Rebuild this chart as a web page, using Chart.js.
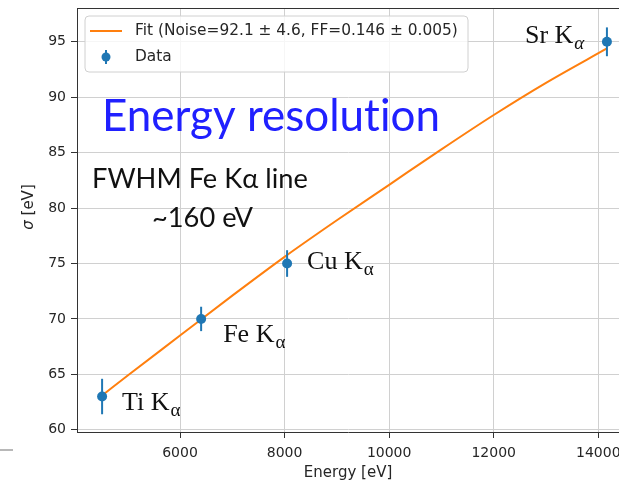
<!DOCTYPE html>
<html><head><meta charset="utf-8">
<script src="https://cdn.jsdelivr.net/npm/chart.js@4"></script>
<style>
html,body{margin:0;padding:0;background:#fff;overflow:hidden;width:619px;height:482px}
</style></head><body><canvas id="c" width="619" height="482"></canvas>
<script>
// ---- data ----
const lineNames = ['Ti', 'Fe', 'Cu', 'Sr'];
const energy = [4510, 6404, 8048, 14165];
const sigma = [63.0, 70.0, 75.0, 95.0];
const sigmaErr = [1.6, 1.1, 1.2, 1.3];
const fitEnergy = [4510, 5000, 6000, 7000, 8000, 9000, 10000, 11000, 12000, 13000, 14165];
const fitSigma = [63.1, 64.9, 68.5, 72.1, 75.6, 78.9, 82.1, 85.3, 88.4, 91.3, 94.4];
const xTicks = [6000, 8000, 10000, 12000, 14000];
const yTicks = [60, 65, 70, 75, 80, 85, 90, 95];
const fitLabel = 'Fit (Noise=92.1 \u00b1 4.6, FF=0.146 \u00b1 0.005)';
const dataLabel = 'Data';
const xTitle = 'Energy [eV]';
const titleText = 'Energy resolution';
const noteLine1 = 'FWHM Fe K\u03b1 line';
const noteLine2 = '~160 eV';

const BLUE = '#1f77b4', ORANGE = '#ff7f0e', AX = '#333333', GRID = '#d0d0d0';
const TICKFONT = {family: 'DejaVu Sans', size: 14};
const TITLEFONT = {family: 'DejaVu Sans', size: 15};

// label offsets (pixels) relative to each point: [dx, dy, italicAlpha]
const labelOffsets = {Ti: [20, 13, false], Fe: [22, 23, false], Cu: [20, 5, false], Sr: [-82, 1, true]};

function fitText(ctx, text, family, weight, targetW, base) {
  ctx.font = weight + ' ' + base + 'px "' + family + '"';
  const w = ctx.measureText(text).width;
  return base * targetW / w;
}

const decor = {
  id: 'decor',
  afterDatasetsDraw(chart) {
    const ctx = chart.ctx, xs = chart.scales.x, ys = chart.scales.y, a = chart.chartArea;
    ctx.save();
    // error bars
    ctx.strokeStyle = BLUE; ctx.lineWidth = 2;
    energy.forEach((e, i) => {
      const px = xs.getPixelForValue(e);
      ctx.beginPath();
      ctx.moveTo(px, ys.getPixelForValue(sigma[i] - sigmaErr[i]));
      ctx.lineTo(px, ys.getPixelForValue(sigma[i] + sigmaErr[i]));
      ctx.stroke();
    });
    // top frame line
    ctx.strokeStyle = AX; ctx.lineWidth = 1;
    ctx.beginPath(); ctx.moveTo(a.left, a.top + 0.5); ctx.lineTo(a.right, a.top + 0.5); ctx.stroke();

    // point labels (serif, with subscript alpha)
    ctx.fillStyle = '#111';
    ctx.textBaseline = 'alphabetic';
    energy.forEach((e, i) => {
      const name = lineNames[i];
      const o = labelOffsets[name];
      const px = xs.getPixelForValue(e) + o[0];
      const py = ys.getPixelForValue(sigma[i]) + o[1];
      ctx.font = '26px "Liberation Serif"';
      const main = name + ' K';
      ctx.fillText(main, px, py);
      const w = ctx.measureText(main).width;
      ctx.font = (o[2] ? 'italic ' : '') + '19px "Liberation Serif"';
      ctx.fillText('\u03b1', px + w + 1, py + 6);
    });

    // legend
    const lx = 85, ly = 16, lw = 383, lh = 56, r = 4;
    ctx.beginPath();
    ctx.moveTo(lx + r, ly); ctx.lineTo(lx + lw - r, ly); ctx.quadraticCurveTo(lx + lw, ly, lx + lw, ly + r);
    ctx.lineTo(lx + lw, ly + lh - r); ctx.quadraticCurveTo(lx + lw, ly + lh, lx + lw - r, ly + lh);
    ctx.lineTo(lx + r, ly + lh); ctx.quadraticCurveTo(lx, ly + lh, lx, ly + lh - r);
    ctx.lineTo(lx, ly + r); ctx.quadraticCurveTo(lx, ly, lx + r, ly); ctx.closePath();
    ctx.fillStyle = 'rgba(255,255,255,0.8)'; ctx.fill();
    ctx.strokeStyle = '#d0d0d0'; ctx.lineWidth = 1; ctx.stroke();
    const ds = chart.data.datasets;
    ctx.strokeStyle = ds[0].borderColor; ctx.lineWidth = 2;
    ctx.beginPath(); ctx.moveTo(90, 31); ctx.lineTo(122, 31); ctx.stroke();
    ctx.strokeStyle = BLUE; ctx.lineWidth = 2;
    ctx.beginPath(); ctx.moveTo(106, 50); ctx.lineTo(106, 64); ctx.stroke();
    ctx.fillStyle = BLUE; ctx.beginPath(); ctx.arc(106, 57, 4.5, 0, Math.PI * 2); ctx.fill();
    ctx.fillStyle = '#262626'; ctx.textBaseline = 'middle';
    let lfs = fitText(ctx, ds[0].label, 'DejaVu Sans', 'normal', 323, 15);
    ctx.font = lfs + 'px "DejaVu Sans"';
    ctx.fillText(ds[0].label, 135, 31);
    ctx.fillText(ds[1].label, 135, 57);

    // y axis title
    ctx.save();
    ctx.translate(29, 207); ctx.rotate(-Math.PI / 2);
    const tf = TITLEFONT.size + 'px "' + TITLEFONT.family + '"';
    ctx.font = 'italic ' + tf;
    const sw = ctx.measureText('\u03c3').width;
    ctx.font = tf;
    const rw = ctx.measureText(' [eV]').width;
    const start = -(sw + rw) / 2;
    ctx.textBaseline = 'middle'; ctx.fillStyle = '#262626';
    ctx.font = 'italic ' + tf; ctx.fillText('\u03c3', start, 0);
    ctx.font = tf; ctx.fillText(' [eV]', start + sw, 0);
    ctx.restore();

    // slide texts
    ctx.textBaseline = 'alphabetic';
    ctx.letterSpacing = '0.01px';
    let fs = fitText(ctx, titleText, 'Lato', 'normal', 338, 40);
    ctx.font = fs + 'px "Lato"'; ctx.fillStyle = '#2020ff';
    ctx.fillText(titleText, 102, 131);
    fs = fitText(ctx, noteLine1, 'Lato', 'normal', 216, 24);
    ctx.font = fs + 'px "Lato"'; ctx.fillStyle = '#111';
    ctx.fillText(noteLine1, 92, 188);
    ctx.fillText(noteLine2, 152, 227);
    ctx.letterSpacing = '0px';

    // slide artifact
    ctx.strokeStyle = '#b8b8b8'; ctx.lineWidth = 2;
    ctx.beginPath(); ctx.moveTo(0, 450); ctx.lineTo(13, 450); ctx.stroke();
    ctx.restore();
  }
};

new Chart(document.getElementById('c'), {
  type: 'scatter',
  data: {
    datasets: [
      {type: 'line', label: fitLabel, data: fitEnergy.map((x, i) => ({x, y: fitSigma[i]})),
       borderColor: ORANGE, borderWidth: 2, pointRadius: 0, fill: false,
       cubicInterpolationMode: 'monotone', order: 1},
      {type: 'scatter', label: dataLabel, data: energy.map((x, i) => ({x, y: sigma[i]})),
       backgroundColor: BLUE, borderColor: BLUE, pointRadius: 5, borderWidth: 0, order: 0}
    ]
  },
  options: {
    responsive: false, animation: false, devicePixelRatio: 1,
    layout: {autoPadding: false, padding: {top: 8, right: 0, left: 0, bottom: 0}},
    plugins: {legend: {display: false}, tooltip: {enabled: false}},
    scales: {
      x: {type: 'linear', min: 4030, max: 14396,
          afterBuildTicks: s => { s.ticks = xTicks.map(v => ({value: v})); },
          afterFit: s => { s.height = 50; s.paddingLeft = 0; s.paddingRight = 0; },
          ticks: {font: TICKFONT, color: '#262626', padding: 7, maxRotation: 0, callback: v => String(v)},
          grid: {color: GRID, lineWidth: 1, tickColor: AX, tickLength: 6},
          border: {color: AX, width: 1},
          title: {display: true, text: xTitle, font: TITLEFONT, color: '#262626', padding: {top: 0, bottom: 0}}},
      y: {type: 'linear', min: 59.8, max: 98.05,
          afterBuildTicks: s => { s.ticks = yTicks.map(v => ({value: v})); },
          afterFit: s => { s.width = 77; s.paddingTop = 0; s.paddingBottom = 0; },
          ticks: {font: TICKFONT, color: '#262626', padding: 5, callback: v => String(v)},
          grid: {color: GRID, lineWidth: 1, tickColor: AX, tickLength: 6},
          border: {color: AX, width: 1}}
    }
  },
  plugins: [decor]
});
</script></body></html>
